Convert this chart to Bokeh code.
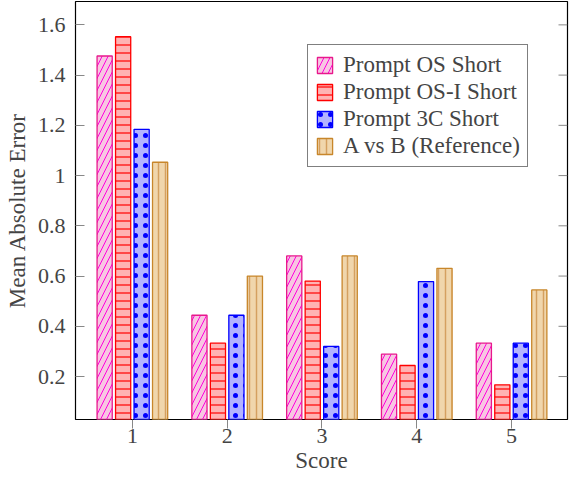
import math
from bokeh.plotting import figure
from bokeh.models import ColumnDataSource, Range1d, FixedTicker, CustomJSTickFormatter
from bokeh.transform import dodge
from bokeh.embed import file_html
from bokeh.resources import INLINE

scores = [1, 2, 3, 4, 5]
prompt_os_short = [1.476, 0.444, 0.680, 0.289, 0.333]
prompt_osi_short = [1.553, 0.333, 0.580, 0.244, 0.167]
prompt_3c_short = [1.184, 0.444, 0.320, 0.578, 0.333]
a_vs_b_reference = [1.053, 0.600, 0.680, 0.631, 0.545]
series_names = ["Prompt OS Short", "Prompt OS-I Short", "Prompt 3C Short", "A vs B (Reference)"]
y_ticks = [0.2, 0.4, 0.6, 0.8, 1.0, 1.2, 1.4, 1.6]

source = ColumnDataSource(dict(score=scores, os=prompt_os_short, osi=prompt_osi_short,
                               c3=prompt_3c_short, ab=a_vs_b_reference))

FONT = "Liberation Serif"
X_START, X_END = 0.4, 5.59

p = figure(width=570, height=475, output_backend="svg", toolbar_location=None,
           x_range=Range1d(X_START, X_END), y_range=Range1d(0.029, 1.693),
           min_border_left=75, min_border_right=3, min_border_top=1, min_border_bottom=0)

styles = [
    dict(col="os", line_color="#e8188c", fill_color="#f8c6e2", hatch_pattern="right_diagonal_line",
         hatch_color="#ff00dd", hatch_scale=12, hatch_weight=1),
    dict(col="osi", line_color="#ff0000", fill_color="#ffb3b3", hatch_pattern="horizontal_line",
         hatch_color="#ff0000", hatch_scale=8, hatch_weight=1.2),
    dict(col="c3", line_color="#0000ff", fill_color="#b3b3ff", hatch_pattern="dot",
         hatch_color="#0000ff", hatch_scale=10, hatch_weight=1),
    dict(col="ab", line_color="#c8862a", fill_color="#f0d6ac", hatch_pattern="vertical_line",
         hatch_color="#d4a060", hatch_scale=7, hatch_weight=1.5),
]
offsets = [-0.2925, -0.0975, 0.0975, 0.2925]

for name, st, off in zip(series_names, styles, offsets):
    p.vbar(x=dodge("score", off, range=p.x_range), top=st["col"], bottom=0, width=0.16,
           source=source, line_color=st["line_color"], line_width=1.3,
           fill_color=st["fill_color"], hatch_pattern=st["hatch_pattern"],
           hatch_color=st["hatch_color"], hatch_scale=st["hatch_scale"],
           hatch_weight=st["hatch_weight"], legend_label=name)

# mirrored tick marks on the right edge of the frame
p.ray(x=[X_END] * len(y_ticks), y=y_ticks, length=9, length_units="screen",
      angle=math.pi, line_color="#888888", line_width=1)

p.xgrid.visible = False
p.ygrid.visible = False
p.outline_line_color = "black"
p.outline_line_width = 1.2
p.background_fill_color = "white"
p.border_fill_color = "white"

xa = p.xaxis[0]
xa.ticker = FixedTicker(ticks=scores)
xa.major_tick_in = 0
xa.major_tick_out = 9
xa.major_tick_line_color = "#888888"
xa.minor_tick_line_color = None
xa.axis_line_color = None
xa.major_label_standoff = 0
xa.major_label_text_font = FONT
xa.major_label_text_font_size = "22px"
xa.axis_label = "Score"
xa.axis_label_text_font = FONT
xa.axis_label_text_font_size = "23px"
xa.axis_label_text_font_style = "normal"
xa.axis_label_standoff = 2

ya = p.yaxis[0]
ya.ticker = FixedTicker(ticks=y_ticks)
ya.formatter = CustomJSTickFormatter(code="return Number(tick.toFixed(1)).toString();")
ya.major_tick_in = 9
ya.major_tick_out = 0
ya.major_tick_line_color = "#888888"
ya.minor_tick_line_color = None
ya.axis_line_color = None
ya.major_label_standoff = 10
ya.major_label_text_font = FONT
ya.major_label_text_font_size = "22px"
ya.axis_label = "Mean Absolute Error"
ya.axis_label_text_font = FONT
ya.axis_label_text_font_size = "23px"
ya.axis_label_text_font_style = "normal"
ya.axis_label_standoff = 5

lg = p.legend[0]
lg.location = (232, 252)
lg.border_line_color = "black"
lg.border_line_width = 1
lg.background_fill_alpha = 1
lg.label_text_font = FONT
lg.label_text_font_size = "23px"
lg.glyph_width = 19
lg.glyph_height = 20
lg.label_standoff = 9
lg.padding = 7
lg.spacing = 1
lg.margin = 0

open("out.html", "w").write(file_html(p, INLINE))
